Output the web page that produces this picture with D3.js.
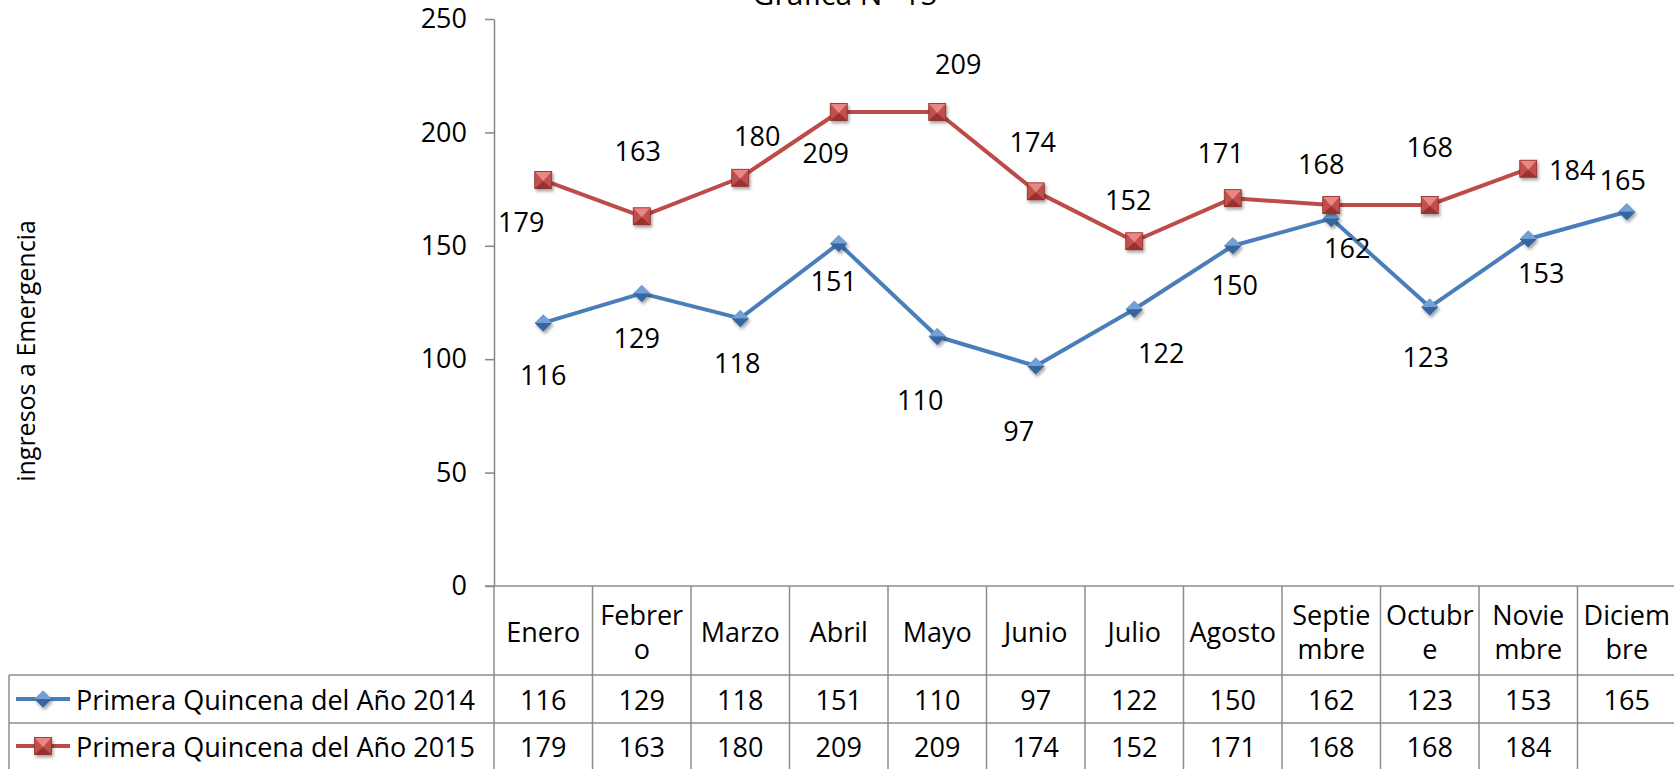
<!DOCTYPE html>
<html>
<head>
<meta charset="utf-8">
<script src="https://cdn.jsdelivr.net/npm/d3@7"></script>
<style>
    html, body { margin: 0; padding: 0; background: #ffffff; }
    svg { display: block; font-family: 'Open Sans', 'Noto Sans', sans-serif; }
</style>
</head>
<body>
<svg id="chart" width="1674" height="769"></svg>
<script>
const categories = ['Enero', 'Febrero', 'Marzo', 'Abril', 'Mayo', 'Junio', 'Julio', 'Agosto',
    'Septiembre', 'Octubre', 'Noviembre', 'Diciembre'];
// header cells wrap the way the spreadsheet broke them
const categoryLines = [['Enero'], ['Febrer', 'o'], ['Marzo'], ['Abril'], ['Mayo'], ['Junio'], ['Julio'],
    ['Agosto'], ['Septie', 'mbre'], ['Octubr', 'e'], ['Novie', 'mbre'], ['Diciem', 'bre']];
const values2014 = [116, 129, 118, 151, 110, 97, 122, 150, 162, 123, 153, 165];
const values2015 = [179, 163, 180, 209, 209, 174, 152, 171, 168, 168, 184, null];
const seriesNames = ['Primera Quincena del Año 2014', 'Primera Quincena del Año 2015'];
const yTicks = [0, 50, 100, 150, 200, 250];
const chartTitle = 'Grafica N° 15';
const yTitle = 'ingresos a Emergencia';

// label nudges (px) from each point, hand placed like the original
const labelOffset2014 = [[0, 52], [-5, 44], [-3, 44], [-5, 37], [-17, 63], [-17, 64], [27, 43], [2, 39],
    [16, 29], [-4, 49], [13, 34], [-4, -32]];
const labelOffset2015 = [[-22, 41], [-4, -66], [17, -42], [-13, 41], [21, -48], [-3, -50], [-6, -42],
    [-12, -46], [-10, -41], [0, -58], [44, 1], [0, 0]];

const FONT = 27;
const AXIS_GREY = '#868686';
const GRID_GREY = '#8c8c8c';

const plot = {left: 494, right: 1676, top: 19, bottom: 586};
const table = {left: 9, row1: 675, row2: 723, bottom: 771};

const svg = d3.select('#chart');
const defs = svg.append('defs');

const shadow = defs.append('filter').attr('id', 'mshadow')
    .attr('x', '-50%').attr('y', '-50%').attr('width', '200%').attr('height', '200%');
shadow.append('feDropShadow')
    .attr('dx', 1.5).attr('dy', 2.5).attr('stdDeviation', 1.4)
    .attr('flood-color', '#000').attr('flood-opacity', 0.35);

const x = d3.scaleBand().domain(categories).range([plot.left, plot.right]).padding(0);
const y = d3.scaleLinear().domain([0, 250]).range([plot.bottom, plot.top]);
const cx = c => x(c) + x.bandwidth() / 2;

const series = [
    {name: seriesNames[0], values: values2014, offsets: labelOffset2014, line: '#4A7EBB', marker: 'diamond',
        fill: '#4F81BD', light: '#7aa6dc', dark: '#2f5f98'},
    {name: seriesNames[1], values: values2015, offsets: labelOffset2015, line: '#BE4B48', marker: 'square',
        fill: '#C0504D', light: '#e98784', dark: '#8e2a27'}
];

function drawMarker(g, s, px, py) {
    const m = g.append('g').attr('transform', 'translate(' + px + ',' + py + ')').attr('filter', 'url(#mshadow)');
    const r = 8.5;
    if (s.marker === 'diamond') {
        m.append('path').attr('d', 'M0,' + (-r) + 'L' + r + ',0L0,' + r + 'L' + (-r) + ',0Z').attr('fill', s.fill);
        m.append('path').attr('d', 'M0,' + (-r) + 'L' + r + ',0L' + (-r) + ',0Z').attr('fill', s.light).attr('opacity', 0.85);
        m.append('path').attr('d', 'M' + (-r) + ',0L' + r + ',0L0,' + r + 'Z').attr('fill', s.dark).attr('opacity', 0.8);
    } else {
        m.append('rect').attr('x', -r).attr('y', -r).attr('width', 2 * r).attr('height', 2 * r).attr('fill', s.fill);
        m.append('path').attr('d', 'M' + (-r) + ',' + (-r) + 'L' + r + ',' + (-r) + 'L0,1Z').attr('fill', s.light);
        m.append('path').attr('d', 'M' + (-r) + ',' + r + 'L' + r + ',' + r + 'L0,1Z').attr('fill', s.dark).attr('opacity', 0.8);
        m.append('rect').attr('x', -r).attr('y', -r).attr('width', 2 * r).attr('height', 2 * r)
            .attr('fill', 'none').attr('stroke', s.dark).attr('stroke-width', 0.8);
    }
}

// title, cut by the top edge like the source
svg.append('text')
    .attr('x', 845).attr('y', 5)
    .attr('text-anchor', 'middle')
    .style('font-size', '30px')
    .text(chartTitle);

// y axis title
svg.append('text')
    .attr('transform', 'translate(25,351) rotate(-90)')
    .attr('text-anchor', 'middle')
    .attr('dominant-baseline', 'central')
    .style('font-size', '25px')
    .text(yTitle);

// y axis
const yAxis = svg.append('g')
    .attr('transform', 'translate(' + plot.left + ',0)')
    .call(d3.axisLeft(y).tickValues(yTicks).tickSize(9).tickSizeOuter(0).tickPadding(18));
yAxis.select('.domain').attr('stroke', AXIS_GREY).attr('stroke-width', 1.5);
yAxis.selectAll('.tick line').attr('stroke', AXIS_GREY).attr('stroke-width', 1.5);
yAxis.selectAll('.tick text').attr('fill', '#000').style('font-size', FONT + 'px')
    .style('font-family', "'Open Sans', sans-serif");

// data table grid
const grid = svg.append('g').attr('stroke', GRID_GREY).attr('stroke-width', 1.5);
grid.append('line').attr('x1', plot.left - 9).attr('x2', plot.right).attr('y1', plot.bottom).attr('y2', plot.bottom);
grid.append('line').attr('x1', table.left).attr('x2', plot.right).attr('y1', table.row1).attr('y2', table.row1);
grid.append('line').attr('x1', table.left).attr('x2', plot.right).attr('y1', table.row2).attr('y2', table.row2);
grid.append('line').attr('x1', table.left).attr('x2', table.left).attr('y1', table.row1).attr('y2', table.bottom);
grid.selectAll('.col').data(categories.concat(['end'])).join('line')
    .attr('class', 'col')
    .attr('x1', (d, i) => i < categories.length ? x(d) : plot.right)
    .attr('x2', (d, i) => i < categories.length ? x(d) : plot.right)
    .attr('y1', plot.bottom).attr('y2', table.bottom);

// header cells
const head = svg.append('g').style('font-size', FONT + 'px').attr('text-anchor', 'middle');
categories.forEach((c, i) => {
    const lines = categoryLines[i];
    const lh = 34;
    const mid = (plot.bottom + table.row1) / 2 + 1;
    lines.forEach((t, j) => {
        head.append('text')
            .attr('x', cx(c))
            .attr('y', mid + (j - (lines.length - 1) / 2) * lh)
            .attr('dominant-baseline', 'central')
            .text(t);
    });
});

// value rows and legend keys
series.forEach((s, k) => {
    const rowMid = k === 0 ? (table.row1 + table.row2) / 2 : (table.row2 + table.bottom) / 2 - 1;
    const row = svg.append('g').style('font-size', FONT + 'px');
    row.append('line').attr('x1', 16).attr('x2', 70).attr('y1', rowMid).attr('y2', rowMid)
        .attr('stroke', s.line).attr('stroke-width', 4);
    drawMarker(row, s, 43, rowMid);
    row.append('text').attr('x', 76).attr('y', rowMid).attr('dominant-baseline', 'central').text(s.name);
    row.selectAll('.val').data(s.values).join('text')
        .attr('class', 'val')
        .attr('x', (d, i) => cx(categories[i]))
        .attr('y', rowMid)
        .attr('text-anchor', 'middle')
        .attr('dominant-baseline', 'central')
        .text(d => d == null ? '' : d);
});

// lines, markers, data labels
const line = d3.line()
    .defined(d => d != null)
    .x((d, i) => cx(categories[i]))
    .y(d => y(d));

series.forEach(s => {
    const g = svg.append('g');
    g.append('path').datum(s.values)
        .attr('d', line)
        .attr('fill', 'none')
        .attr('stroke', s.line)
        .attr('stroke-width', 4)
        .attr('stroke-linejoin', 'round');
    s.values.forEach((v, i) => {
        if (v == null) return;
        drawMarker(g, s, cx(categories[i]), y(v));
    });
    s.values.forEach((v, i) => {
        if (v == null) return;
        g.append('text')
            .attr('x', cx(categories[i]) + s.offsets[i][0])
            .attr('y', y(v) + s.offsets[i][1])
            .attr('text-anchor', 'middle')
            .attr('dominant-baseline', 'central')
            .style('font-size', FONT + 'px')
            .text(v);
    });
});
</script>
</body>
</html>
